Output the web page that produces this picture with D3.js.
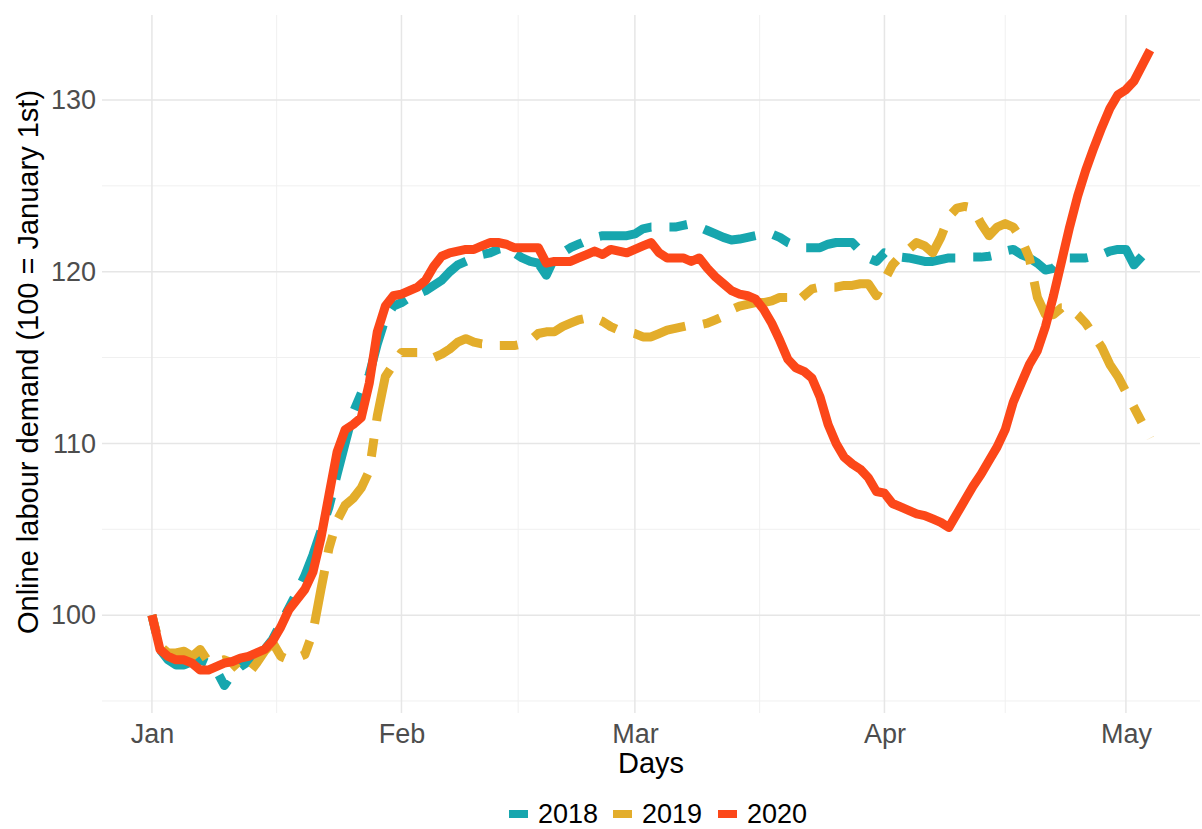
<!DOCTYPE html>
<html>
<head>
<meta charset="utf-8">
<script src="https://cdn.jsdelivr.net/npm/d3@7"></script>
<style>
  body { margin: 0; background: #fff; }
  svg { font-family: "Liberation Sans", Arial, sans-serif; }
</style>
</head>
<body>
<svg id="chart" width="1202" height="829"></svg>
<script>
// day index from January 1st (0) to early May
const years = ["2018", "2019", "2020"];
const colors = ["#17a6ae", "#e3ad2b", "#fc4719"];

const values2018 = [
  100.0, 98.0, 97.4, 97.1, 97.1, 97.3, 97.4, 97.2, 96.8, 95.9,
  96.6, 97.0, 97.3, 97.6, 98.0, 98.6, 99.5, 100.4, 101.3, 102.3,
  103.5, 104.9, 106.3, 108.2, 110.0, 111.8, 112.9, 114.0, 115.8, 117.3,
  118.0, 118.2, 118.5, 118.7, 118.9, 119.2, 119.5, 120.0, 120.4, 120.6,
  120.8, 121.0, 121.1, 121.3, 121.4, 121.1, 120.8, 120.6, 120.5, 119.8,
  120.8, 121.1, 121.4, 121.6, 121.8, 122.0, 122.1, 122.1, 122.1, 122.1,
  122.2, 122.5, 122.6, 122.6, 122.6, 122.6, 122.7, 122.8, 122.6, 122.4,
  122.2, 122.0, 121.85, 121.9, 122.0, 122.1, 122.2, 122.2, 122.0, 121.7,
  121.5, 121.4, 121.4, 121.4, 121.6, 121.7, 121.7, 121.7, 121.2, 120.8,
  120.6, 121.1, 121.0, 120.85, 120.8, 120.7, 120.6, 120.6, 120.7, 120.8,
  120.8, 120.8, 120.85, 120.85, 120.9, 121.0, 121.2, 121.3, 121.0, 120.8,
  120.5, 120.1, 120.2, 120.7, 120.8, 120.8, 120.8, 120.9, 121.0, 121.2,
  121.3, 121.3, 120.4, 120.9
];

const values2019 = [
  100.0, 98.2, 97.8, 97.8, 97.9, 97.6, 98.0, 97.3, 97.3, 97.4,
  97.2, 96.7, 96.6, 97.2, 97.9, 98.4, 97.6, 97.4, 97.5, 97.7,
  99.0, 101.5, 103.9, 105.5, 106.4, 106.8, 107.4, 108.4, 111.6, 113.9,
  114.6, 115.3, 115.3, 115.3, 115.1, 115.0, 115.2, 115.5, 115.9, 116.1,
  115.9, 115.8, 115.8, 115.7, 115.7, 115.7, 115.8, 116.0, 116.4, 116.5,
  116.5, 116.8, 117.0, 117.2, 117.3, 117.3, 117.1, 116.8, 116.6, 116.5,
  116.4, 116.2, 116.2, 116.4, 116.6, 116.7, 116.8, 116.9, 116.9, 117.0,
  117.2, 117.4, 117.8, 118.0, 118.1, 118.2, 118.2, 118.3, 118.5, 118.5,
  118.2, 118.6, 119.0, 119.1, 119.1, 119.1, 119.2, 119.2, 119.3, 119.3,
  118.6, 119.5, 120.4, 120.9, 121.3, 121.7, 121.5, 121.1, 122.0, 123.2,
  123.7, 123.8, 123.7, 122.8, 122.1, 122.6, 122.8, 122.6, 121.9, 120.8,
  118.5, 117.5, 117.5, 117.9, 117.9, 117.5, 117.0, 116.3, 115.6, 114.6,
  113.9, 113.0, 112.1, 111.2, 110.3
];

const values2020 = [
  100.0, 98.0, 97.6, 97.4, 97.4, 97.2, 96.8, 96.8, 97.0, 97.2,
  97.3, 97.5, 97.6, 97.8, 98.0, 98.5, 99.3, 100.3, 100.9, 101.5,
  102.5, 104.5, 107.0, 109.5, 110.8, 111.1, 111.5, 113.5, 116.5, 118.0,
  118.6, 118.7, 118.9, 119.1, 119.5, 120.3, 120.9, 121.1, 121.2, 121.3,
  121.3, 121.5, 121.7, 121.7, 121.6, 121.4, 121.4, 121.4, 121.4, 120.5,
  120.6, 120.6, 120.6, 120.8, 121.0, 121.2, 121.0, 121.3, 121.2, 121.1,
  121.3, 121.5, 121.7, 121.1, 120.8, 120.8, 120.8, 120.6, 120.8, 120.2,
  119.7, 119.3, 118.9, 118.7, 118.6, 118.4, 117.8, 117.0, 116.0, 114.9,
  114.4, 114.2, 113.8, 112.7, 111.1, 110.0, 109.2, 108.8, 108.5, 108.0,
  107.2, 107.1, 106.5, 106.3, 106.1, 105.9, 105.8, 105.6, 105.4, 105.1,
  105.9, 106.7, 107.5, 108.2, 109.0, 109.8, 110.8, 112.4, 113.5, 114.6,
  115.4, 116.8, 118.6, 120.6, 122.6, 124.4, 125.9, 127.2, 128.4, 129.5,
  130.3, 130.6, 131.1, 132.0, 132.9
];

const monthTicks = [0, 31, 60, 91, 121];
const monthLabels = ["Jan", "Feb", "Mar", "Apr", "May"];
const monthMinor = [15.5, 45.5, 75.5, 106];
const yTicks = [100, 110, 120, 130];
const yMinor = [95, 105, 115, 125];

const series = [values2018, values2019, values2020];

const svg = d3.select("#chart");
const panel = {l: 102, r: 1200, t: 15, b: 713};

const x = d3.scaleLinear().domain([-6.2, 130.2]).range([panel.l, panel.r]);
const y = d3.scaleLinear().domain([94.3, 134.95]).range([panel.b, panel.t]);

// grid
const grid = svg.append("g");
grid.selectAll("line.ymin").data(yMinor).enter().append("line")
  .attr("x1", panel.l).attr("x2", panel.r)
  .attr("y1", d => y(d)).attr("y2", d => y(d))
  .attr("stroke", "#f0f0f0").attr("stroke-width", 1);
grid.selectAll("line.xmin").data(monthMinor).enter().append("line")
  .attr("y1", panel.t).attr("y2", panel.b)
  .attr("x1", d => x(d)).attr("x2", d => x(d))
  .attr("stroke", "#f0f0f0").attr("stroke-width", 1);
grid.selectAll("line.ymaj").data(yTicks).enter().append("line")
  .attr("x1", panel.l).attr("x2", panel.r)
  .attr("y1", d => y(d)).attr("y2", d => y(d))
  .attr("stroke", "#e6e6e6").attr("stroke-width", 1.5);
grid.selectAll("line.xmaj").data(monthTicks).enter().append("line")
  .attr("y1", panel.t).attr("y2", panel.b)
  .attr("x1", d => x(d)).attr("x2", d => x(d))
  .attr("stroke", "#e6e6e6").attr("stroke-width", 1.5);

// axes (text only, like theme_minimal)
const xAxis = svg.append("g")
  .attr("transform", `translate(0,${panel.b})`)
  .call(d3.axisBottom(x).tickValues(monthTicks)
    .tickFormat((d, i) => monthLabels[i]).tickSize(0).tickPadding(11));
const yAxis = svg.append("g")
  .attr("transform", `translate(${panel.l},0)`)
  .call(d3.axisLeft(y).tickValues(yTicks).tickSize(0).tickPadding(6));
[xAxis, yAxis].forEach(a => {
  a.select(".domain").remove();
  a.selectAll("text").attr("fill", "#4d4d4d")
    .style("font-size", "27px").style("font-family", "'Liberation Sans', Arial, sans-serif");
});

svg.append("text")
  .attr("x", (panel.l + panel.r) / 2).attr("y", 773)
  .attr("text-anchor", "middle").style("font-size", "29px")
  .text("Days");
svg.append("text")
  .attr("transform", "rotate(-90)")
  .attr("x", -(panel.t + panel.b) / 2 + 2).attr("y", 38)
  .attr("text-anchor", "middle").style("font-size", "29px")
  .text("Online labour demand (100 = January 1st)");

// lines
const line = d3.line().x((d, i) => x(i)).y(d => y(d));
svg.append("g").selectAll("path").data(series).enter().append("path")
  .attr("d", line)
  .attr("fill", "none")
  .attr("stroke", (d, i) => colors[i])
  .attr("stroke-width", 9)
  .attr("stroke-linejoin", "round")
  .attr("stroke-dasharray", (d, i) => i < 2 ? "18,18,54,18" : null);

// legend
const legend = svg.append("g").attr("transform", "translate(0,814)");
const legX = [509, 613, 718];
years.forEach((yr, i) => {
  legend.append("rect")
    .attr("x", legX[i]).attr("y", -4).attr("width", 19).attr("height", 8)
    .attr("fill", colors[i]);
  legend.append("text")
    .attr("x", legX[i] + 29).attr("y", 9)
    .style("font-size", "27px").text(yr);
});
</script>
</body>
</html>
